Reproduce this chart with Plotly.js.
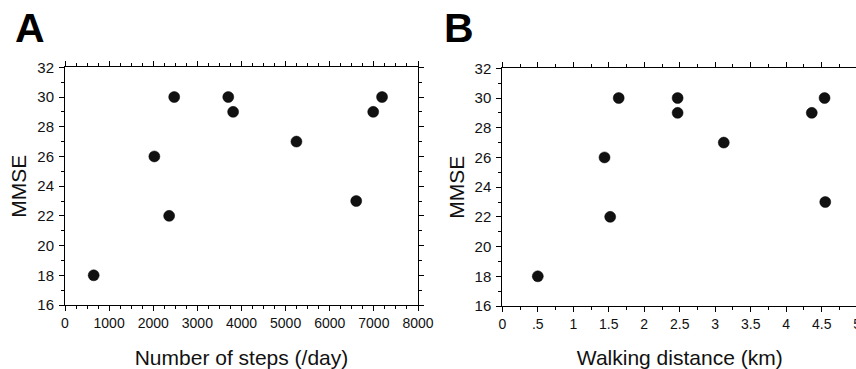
<!DOCTYPE html>
<html><head><meta charset="utf-8">
<script src="https://cdn.plot.ly/plotly-3.0.1.min.js"></script>
<style>html,body{margin:0;padding:0;overflow:hidden;background:#fff;width:856px;height:369px}</style>
</head><body><div id="chart"></div>
<script>
// Panel A: number of steps vs MMSE
const stepsA = [650, 2025, 2360, 2475, 3700, 3810, 5245, 6600, 6985, 7185];
const mmseA  = [18, 26, 22, 30, 30, 29, 27, 23, 29, 30];
// Panel B: walking distance vs MMSE
const distB  = [0.50, 1.44, 1.52, 1.64, 2.47, 2.47, 3.12, 4.36, 4.54, 4.55];
const mmseB  = [18, 26, 22, 30, 30, 29, 27, 29, 30, 23];
// Tick labels
const yTicks = [16, 18, 20, 22, 24, 26, 28, 30, 32];
const xTicksA = [0, 1000, 2000, 3000, 4000, 5000, 6000, 7000, 8000];
const xTicksB = [0, 0.5, 1, 1.5, 2, 2.5, 3, 3.5, 4, 4.5, 5];
const xTickTextB = ['0', '.5', '1', '1.5', '2', '2.5', '3', '3.5', '4', '4.5', '5'];

const W = 880, H = 369;
const FONT = 'Liberation Sans, Arial, Helvetica, sans-serif';

const marker = {size: 11, color: '#111', line: {color: '#000', width: 0.5}};
const traces = [
  {x: stepsA, y: mmseA, type: 'scatter', mode: 'markers', marker, xaxis: 'x', yaxis: 'y', showlegend: false, cliponaxis: false},
  {x: distB, y: mmseB, type: 'scatter', mode: 'markers', marker, xaxis: 'x2', yaxis: 'y2', showlegend: false, cliponaxis: false}
];

function axisBase(extra) {
  return Object.assign({
    showgrid: false, zeroline: false, showline: true, linecolor: '#000', linewidth: 1,
    mirror: 'allticks', ticks: 'outside', ticklen: 5, tickwidth: 1, tickcolor: '#000',
    tickfont: {family: FONT, size: 14, color: '#111'},
    automargin: false, fixedrange: true
  }, extra);
}

const yTickFont = {family: FONT, size: 15, color: '#111'};

const layout = {
  width: W, height: H,
  margin: {l: 0, r: 0, t: 0, b: 0},
  paper_bgcolor: '#fff', plot_bgcolor: '#fff',
  font: {family: FONT, color: '#111'},
  xaxis: axisBase({
    domain: [65 / W, 418 / W], range: [0, 8000], anchor: 'y',
    tickvals: xTicksA,
    minor: {dtick: 250, ticks: 'outside', ticklen: 3, tickcolor: '#000', showgrid: false},
    title: {text: 'Number of steps (/day)', font: {family: FONT, size: 21, color: '#111'}, standoff: 20}
  }),
  yaxis: axisBase({
    domain: [(H - 305) / H, (H - 67.3) / H], range: [16, 32], anchor: 'x',
    tickvals: yTicks, tickfont: yTickFont, ticklabelstandoff: 2,
    minor: {dtick: 1, ticks: 'outside', ticklen: 3, tickcolor: '#000', showgrid: false},
    title: {text: 'MMSE', font: {family: FONT, size: 21, color: '#111'}, standoff: 4}
  }),
  xaxis2: axisBase({
    domain: [502.3 / W, 857.2 / W], range: [0, 5], anchor: 'y2',
    tickvals: xTicksB, ticktext: xTickTextB,
    minor: {dtick: 0.25, ticks: 'outside', ticklen: 3, tickcolor: '#000', showgrid: false},
    title: {text: 'Walking distance (km)', font: {family: FONT, size: 21, color: '#111'}, standoff: 20}
  }),
  yaxis2: axisBase({
    domain: [(H - 306) / H, (H - 68.3) / H], range: [16, 32], anchor: 'x2',
    tickvals: yTicks, tickfont: yTickFont, ticklabelstandoff: 2,
    minor: {dtick: 1, ticks: 'outside', ticklen: 3, tickcolor: '#000', showgrid: false},
    title: {text: 'MMSE', font: {family: FONT, size: 21, color: '#111'}, standoff: 4}
  }),
  annotations: [
    {text: '<b>A</b>', xref: 'paper', yref: 'paper', x: 13 / W, y: 1 - 3 / H, xanchor: 'left', yanchor: 'top', showarrow: false, font: {family: FONT, size: 41, color: '#000'}},
    {text: '<b>B</b>', xref: 'paper', yref: 'paper', x: 442 / W, y: 1 - 3 / H, xanchor: 'left', yanchor: 'top', showarrow: false, font: {family: FONT, size: 41, color: '#000'}}
  ]
};

Plotly.newPlot('chart', traces, layout, {displayModeBar: false, staticPlot: true});
</script>
</body></html>
